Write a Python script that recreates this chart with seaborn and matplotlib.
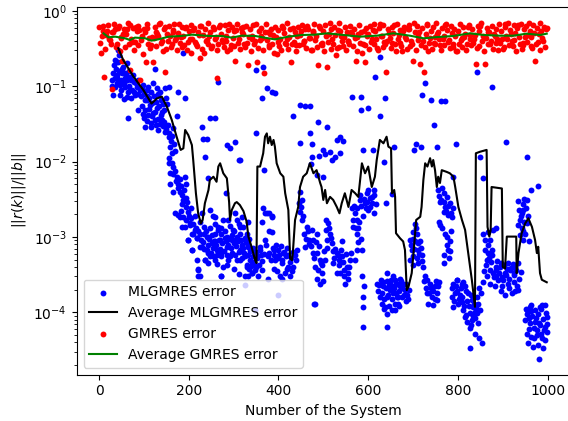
import matplotlib
matplotlib.use("Agg")
import matplotlib.pyplot as plt
import seaborn as sns
import pandas as pd

# ---------------- data ----------------
# MLGMRES error: (system number, relative residual) - sparse/outlier points
blue_sys = [
    36, 43, 54, 62, 32, 30, 39, 51, 58, 69, 77, 36, 47, 58, 69, 32, 47, 62, 80, 84, 91, 99, 110, 121, 129, 136,
    147, 155, 177, 192, 125, 106, 114, 95, 103, 88, 110, 121, 129, 140, 151, 140, 125, 117, 103, 132, 147, 155,
    166, 173, 65, 188, 266, 42, 45,
    158, 162, 155, 166, 158, 173, 158, 177, 166, 181, 192, 195, 188, 195, 177, 188, 199, 203, 192, 210, 199, 218,
    207, 225, 218, 221, 221,
    233, 244, 251, 262, 240, 247, 259, 270, 273, 285, 296, 307, 314, 318, 329, 325, 307, 292, 277, 273, 259, 236,
    233, 322, 307, 329, 314, 299, 285, 266,
    229, 240, 236, 247, 259, 285, 292, 303, 311, 283, 244, 232,
    169, 181, 195, 184, 203, 207, 214, 199, 218, 207, 229, 240, 251, 259, 273, 281, 288, 296, 303, 318, 325, 333,
    266, 244, 255, 236, 273, 288, 303, 314, 325, 340, 351, 359, 221, 225, 273, 325, 348, 400, 480, 374, 385, 422,
    407, 363, 351, 340, 333, 266, 259, 288, 303, 318, 333,
    351, 366, 374, 363, 385, 392, 448, 459, 470, 433, 489, 509, 470, 447, 474, 499, 530, 537, 543, 526, 537, 565,
    583, 583, 600, 626, 638, 615, 626, 350, 314, 589, 635, 658, 640, 368,
    366, 370, 363, 380, 385, 378, 385, 370, 359, 351, 344, 337, 329, 340, 348, 355, 314, 318, 329,
    389, 400, 411, 422, 433, 441, 392, 407, 418, 433, 403, 426, 389,
    448, 452, 448, 452, 463, 474, 467, 459, 485, 478, 493, 489, 496, 493, 481, 507, 515, 511, 519, 530, 534, 537,
    545, 552, 560, 541, 522, 504, 530, 548, 556, 508, 481, 541, 574, 574, 571, 563, 582, 593, 600, 612, 597, 608,
    600, 612, 578, 567, 586, 574, 571,
    586, 591, 589, 589, 589, 641, 619, 634, 626, 641, 649, 656, 663, 660, 652, 638, 630, 641, 656, 667, 671,
    503, 515, 490, 520, 475, 611, 652, 472, 485, 500,
    727, 721, 740, 762, 771, 747, 842, 875, 907, 955, 979, 707, 703, 718, 754, 796, 849, 855,
    933, 948, 946, 942, 938, 935, 942, 953, 950, 946, 959, 790,
    649, 660, 671, 678, 682, 675, 664, 656, 667, 660, 686, 690, 652,
    701, 708, 693, 704, 716, 697, 712, 701, 708, 719, 723, 712, 693,
    727, 738, 749, 756, 730, 742, 753, 745, 734,
    756, 768, 760, 775, 771, 782, 768, 779, 786, 760, 775, 782, 779, 768, 781,
    790, 797, 808, 816, 786, 794, 805, 790, 801, 808, 812, 823, 831, 834, 838, 827, 820, 831, 838, 843, 849, 816,
    826, 838, 846, 853, 827, 842,
    857, 868, 872, 860, 875, 868, 860, 879, 886, 864, 872, 864, 872, 883, 890, 879, 886,
    894, 905, 916, 927, 901, 912, 924, 931, 905, 920, 935, 898, 909, 924, 886,
    953, 961, 972, 983, 994, 998, 950, 961, 972, 983, 994, 953, 964, 976, 987, 998, 957, 968, 979, 990, 981, 976,
]
blue_err = [
    0.223, 0.212, 0.182, 0.202, 0.149, 0.121, 0.128, 0.149, 0.128, 0.134, 0.115, 0.099, 0.104, 0.099, 0.089,
    0.077, 0.077, 0.073, 0.077, 0.099, 0.089, 0.104, 0.099, 0.109, 0.094, 0.085, 0.094, 0.099, 0.085, 0.069,
    0.171, 0.066, 0.056, 0.054, 0.048, 0.048, 0.042, 0.044, 0.051, 0.046, 0.059, 0.036, 0.036, 0.029, 0.029,
    0.026, 0.025, 0.021, 0.028, 0.040, 0.038, 0.274, 0.115, 0.30, 0.26,
    0.0158, 0.0129, 0.0095, 0.0086, 0.0070, 0.0063, 0.0051, 0.0051, 0.0040, 0.0040, 0.0063, 0.0051, 0.0031,
    0.0025, 0.00195, 0.00186, 0.00216, 0.00151, 0.00137, 0.00111, 0.00091, 0.00096, 0.00067, 0.00074, 0.00049,
    0.00038, 0.00030,
    0.00111, 0.00101, 0.00082, 0.00067, 0.00067, 0.00055, 0.00111, 0.00091, 0.00061, 0.00074, 0.00091, 0.00101,
    0.00067, 0.00052, 0.00042, 0.00030, 0.00049, 0.00055, 0.00040, 0.00030, 0.00049, 0.00049, 0.00137, 0.00137,
    0.00168, 0.00111, 0.00111, 0.00124, 0.00101, 0.00124,
    0.029, 0.020, 0.0116, 0.038, 0.038, 0.0166, 0.0150, 0.0184, 0.0105, 0.0038, 0.0060, 0.020,
    0.0021, 0.00186, 0.00168, 0.00137, 0.00144, 0.00111, 0.00124, 0.00091, 0.00096, 0.00067, 0.00074, 0.00101,
    0.00106, 0.00087, 0.00111, 0.00096, 0.00078, 0.00106, 0.00091, 0.00078, 0.00096, 0.00074, 0.00064, 0.00061,
    0.00055, 0.00049, 0.00055, 0.00049, 0.00058, 0.00049, 0.00055, 0.00047, 0.00058, 0.00067, 0.00036, 0.00030,
    0.00030, 0.00023, 0.000107, 0.00017, 0.000128, 0.0021, 0.00186, 0.00040, 0.00028, 0.00036, 0.00040, 0.00033,
    0.00030, 0.00137, 0.00186, 0.00168, 0.0021, 0.00186, 0.0016,
    0.165, 0.182, 0.094, 0.069, 0.085, 0.081, 0.056, 0.054, 0.054, 0.040, 0.034, 0.029, 0.024, 0.0178, 0.0171,
    0.0143, 0.0194, 0.0214, 0.0188, 0.0116, 0.0129, 0.073, 0.073, 0.049, 0.051, 0.040, 0.069, 0.134, 0.248,
    0.024, 0.0105, 0.0143, 0.0100, 0.0158, 0.0028, 0.0077,
    0.0024, 0.0021, 0.0016, 0.0021, 0.0019, 0.0012, 0.00117, 0.00091, 0.00074, 0.00064, 0.00055, 0.00049,
    0.00040, 0.00033, 0.00036, 0.00030, 0.00137, 0.00074, 0.00082,
    0.00067, 0.00067, 0.00061, 0.00058, 0.00064, 0.00067, 0.00049, 0.00045, 0.00038, 0.00040, 0.00030, 0.00030,
    0.00038,
    0.0040, 0.0031, 0.00216, 0.00168, 0.00137, 0.00124, 0.00091, 0.00074, 0.00111, 0.00061, 0.00049, 0.00036,
    0.00033, 0.00024, 0.00040, 0.00168, 0.00111, 0.00151, 0.00082, 0.00061, 0.00049, 0.00033, 0.00030, 0.00040,
    0.00049, 0.00055, 0.00045, 0.00049, 0.00033, 0.00024, 0.00033, 0.00091, 0.00013, 0.00087, 0.00168, 0.00111,
    0.0021, 0.0024, 0.0031, 0.0028, 0.0023, 0.0021, 0.0038, 0.0034, 0.0042, 0.0042, 0.0013, 0.00137, 0.00067,
    0.00067, 0.00049,
    0.00030, 0.00022, 0.00016, 0.000118, 0.000064, 0.000064, 0.00024, 0.00022, 0.00016, 0.00016, 0.00020,
    0.00022, 0.00024, 0.00013, 0.000107, 0.000118, 0.00013, 0.00033, 0.00030, 0.00016, 0.00022,
    0.0125, 0.0135, 0.0118, 0.0105, 0.0115, 0.0142, 0.0037, 0.0092, 0.0066, 0.0062,
    0.112, 0.077, 0.066, 0.063, 0.063, 0.031, 0.156, 0.099, 0.0184, 0.0116, 0.0047, 0.0170, 0.0143, 0.0155,
    0.0155, 0.0170, 0.0116, 0.0060,
    0.0030, 0.0032, 0.0023, 0.0021, 0.00168, 0.00144, 0.0013, 0.00151, 0.00111, 0.00091, 0.00087, 0.0063,
    0.00024, 0.00027, 0.00028, 0.00024, 0.00020, 0.00016, 0.00016, 0.00018, 0.00013, 0.000107, 0.00017, 0.00020,
    0.00020,
    0.00117, 0.00111, 0.00091, 0.00087, 0.00087, 0.00067, 0.00067, 0.00055, 0.00052, 0.00058, 0.00040, 0.00045,
    0.00049,
    0.00030, 0.00024, 0.00022, 0.00022, 0.00018, 0.00016, 0.000145, 0.000124, 0.00013,
    0.0042, 0.0038, 0.0029, 0.0034, 0.0025, 0.0028, 0.00216, 0.00195, 0.00186, 0.00144, 0.00101, 0.00087,
    0.00067, 0.00045, 0.00052,
    0.00024, 0.00027, 0.00024, 0.00022, 0.00016, 0.00018, 0.00017, 0.000118, 0.00013, 0.000137, 0.000107,
    0.00018, 0.000145, 0.000118, 0.000102, 0.000097, 0.000075, 0.000079, 0.000083, 0.000097, 0.000107, 0.000087,
    0.000061, 0.000052, 0.000045, 0.000039, 0.000033, 0.00016,
    0.00111, 0.00117, 0.00091, 0.00091, 0.00067, 0.00061, 0.00067, 0.00124, 0.0013, 0.00049, 0.00036, 0.00030,
    0.00024, 0.00022, 0.00027, 0.00033, 0.00040,
    0.00040, 0.00033, 0.00036, 0.00040, 0.00027, 0.00024, 0.00025, 0.00022, 0.00017, 0.00018, 0.00020, 0.00022,
    0.00038, 0.00033, 0.00030,
    0.000107, 0.000118, 0.000107, 0.000118, 0.000124, 0.000087, 0.000079, 0.000071, 0.000075, 0.000068,
    0.000064, 0.000052, 0.000047, 0.000050, 0.000045, 0.000055, 0.000039, 0.000035, 0.000037, 0.000033,
    0.000024, 0.000058,
]

# MLGMRES error - points in the dense clusters
blue_sys_dense = [
    33, 38, 41, 44, 49, 52, 55, 57, 60, 63, 66, 67, 71, 73, 75, 78, 82, 86, 88, 93, 96, 100, 102, 106, 108, 112,
    116, 119, 123, 127, 131, 134, 138, 143, 145, 149, 40, 35, 28, 50, 56, 64, 72,
    97, 101, 108, 112, 115, 119, 124, 127, 131, 135, 138, 142, 145, 150, 153, 157, 160, 163, 168, 170, 157, 162,
    165, 169, 171, 175, 180, 183, 186, 190, 193, 197, 185, 182, 200, 204, 206, 210, 213, 216, 220, 224, 226, 228,
    231, 234, 238, 242, 245, 248, 250, 253, 256, 258, 261, 264, 267, 269, 272, 275, 278, 280, 283, 286, 289, 291,
    294, 297, 300, 302, 305, 309, 311, 313, 316, 320, 323, 327, 331, 334, 337, 339, 243, 262, 285, 300, 255, 276,
    248, 229, 312, 335,
    343, 346, 353, 357, 361, 364, 367, 372, 376, 380, 383, 387, 391, 395, 398, 402, 405, 409, 413, 416, 420, 425,
    429, 436, 439, 396, 414, 430, 377,
    445, 450, 455, 458, 461, 465, 469, 472, 476, 479, 483, 487, 491, 495, 498, 502, 505, 509, 513, 517, 521, 524,
    527, 532, 535, 539, 544, 547, 551, 554, 558, 562, 486, 500,
    566, 569, 572, 576, 579, 581, 585, 588, 591, 595, 598, 603, 605, 609, 614, 617, 577, 583,
    622, 625, 628, 631, 633, 636, 639, 643, 645, 647, 651, 654, 658, 661, 665, 669, 673, 676, 680, 684, 688, 647,
    635, 668, 684, 642,
    695, 699, 703, 706, 710, 714, 717, 721, 699, 705,
    725, 729, 732, 736, 740, 744, 748, 751, 754, 758,
    758, 762, 765, 769, 773, 777, 784, 788, 765, 772, 776, 783, 770, 758, 785,
    787, 792, 796, 799, 803, 806, 810, 814, 818, 821, 825, 829, 833, 836, 840, 845, 848, 852, 855, 819, 830, 844,
    812, 799,
    858, 862, 866, 869, 874, 877, 881, 884, 888, 892, 896, 899, 903, 907, 911, 914, 918, 922, 926, 929, 933, 937,
    940, 913, 928, 896,
    936, 940, 944, 948, 952, 956, 944, 939, 955, 962,
    951, 955, 959, 963, 966, 970, 974, 978, 981, 985, 989, 992, 996, 999, 958, 970, 985, 994, 962, 988,
]
blue_err_dense = [
    0.19, 0.17, 0.14, 0.16, 0.12, 0.17, 0.11, 0.15, 0.14, 0.12, 0.16, 0.10, 0.12, 0.09, 0.14, 0.085, 0.11, 0.08,
    0.12, 0.075, 0.092, 0.08, 0.065, 0.09, 0.075, 0.07, 0.085, 0.06, 0.075, 0.062, 0.078, 0.055, 0.065, 0.058,
    0.048, 0.07, 0.11, 0.13, 0.10, 0.09, 0.068, 0.085, 0.07,
    0.043, 0.038, 0.035, 0.05, 0.033, 0.04, 0.045, 0.031, 0.037, 0.032, 0.041, 0.03, 0.034, 0.027, 0.031, 0.024,
    0.019, 0.022, 0.017, 0.014, 0.011, 0.0095, 0.0068, 0.0075, 0.0056, 0.0045, 0.0058, 0.0048, 0.0036, 0.0042,
    0.0033, 0.0029, 0.0027, 0.0022, 0.0019, 0.0024, 0.0018, 0.0015, 0.0019, 0.0013, 0.0012, 0.0016, 0.0011,
    0.0009,
    0.00085, 0.0007, 0.0012, 0.00078, 0.00095, 0.0013, 0.00062, 0.00072, 0.00088, 0.0015, 0.00079, 0.00058,
    0.00092, 0.0007, 0.0013, 0.00083, 0.00066, 0.0012, 0.00087, 0.00057, 0.00093, 0.0014, 0.00071, 0.00062,
    0.00082, 0.0012, 0.00075, 0.00088, 0.00063, 0.0015, 0.0009, 0.00072, 0.00061, 0.00085, 0.00058, 0.00095,
    0.00065, 0.00041, 0.00045, 0.00044, 0.00043, 0.00037, 0.0019, 0.0017, 0.0023, 0.0021, 0.00032, 0.00038,
    0.00072, 0.00045, 0.00052, 0.00042, 0.00057, 0.00048, 0.0006, 0.00078, 0.00056, 0.00062, 0.0005, 0.00072,
    0.00058, 0.00078, 0.00052, 0.00057, 0.00075, 0.00049, 0.00063, 0.00055, 0.00072, 0.00046, 0.00053, 0.00058,
    0.0005, 0.00035, 0.00033, 0.00035, 0.00028,
    0.0028, 0.0025, 0.0019, 0.0011, 0.00095, 0.0012, 0.0008, 0.00075, 0.0009, 0.00052, 0.00085, 0.00062, 0.00075,
    0.00045, 0.00042, 0.00065, 0.00125, 0.00072, 0.0013, 0.00097, 0.00065, 0.00053, 0.0007, 0.00057, 0.00043,
    0.00068, 0.00046, 0.00036, 0.0006, 0.00028, 0.0004, 0.00062, 0.00028, 0.00026,
    0.0017, 0.0026, 0.0013, 0.0024, 0.0016, 0.0036, 0.0026, 0.0019, 0.0032, 0.0024, 0.0029, 0.0033, 0.0025,
    0.0028, 0.0036, 0.0027, 0.00085, 0.00095,
    0.00019, 0.00023, 0.00027, 0.00018, 0.00025, 0.00015, 0.00021, 0.00026, 0.00017, 0.00023, 0.00027, 0.00015,
    0.00021, 0.00018, 0.00024, 0.00019, 0.00026, 0.00021, 0.00017, 0.00024, 0.00015, 0.00012, 0.00011, 0.00012,
    0.00014, 0.000095,
    0.00078, 0.00095, 0.0007, 0.0013, 0.00083, 0.0006, 0.00072, 0.00048, 0.00043, 0.0015,
    0.00026, 0.00021, 0.00027, 0.00018, 0.00021, 0.00019, 0.00015, 0.00026, 0.00018, 0.00025,
    0.0035, 0.0031, 0.0045, 0.0029, 0.0022, 0.0026, 0.0021, 0.0024, 0.0013, 0.0011, 0.00078, 0.00066, 0.00058,
    0.0016, 0.0012,
    0.00021, 0.00014, 0.00022, 0.00019, 0.00015, 0.00021, 0.00016, 0.00012, 0.00019, 0.00014, 0.00012, 0.00017,
    0.00009, 0.00013, 0.000115, 0.00013, 0.00021, 0.00018, 0.00025, 0.000092, 0.000068, 0.000072, 0.00025,
    0.00027,
    0.00035, 0.00043, 0.00078, 0.00052, 0.00046, 0.00058, 0.00029, 0.00036, 0.00048, 0.00033, 0.00045, 0.00029,
    0.00042, 0.00031, 0.00045, 0.00028, 0.00039, 0.00044, 0.00031, 0.00036, 0.00045, 0.00028, 0.00034, 0.00021,
    0.00019, 0.00019,
    0.0023, 0.0019, 0.0027, 0.0016, 0.0024, 0.0019, 0.0012, 0.00105, 0.0031, 0.0042,
    0.00011, 0.000095, 0.000085, 0.000105, 0.00009, 0.000062, 0.000085, 0.000095, 0.000072, 0.00011, 0.000082,
    0.000058, 0.000098, 0.00007, 0.00006, 0.000045, 0.000052, 0.000043, 0.000125, 0.000125,
]

# Average MLGMRES error (traced vertices)
avg_ml_sys = [
    43, 54, 77, 99, 117, 129, 140, 151, 162, 173, 182, 188, 192, 199, 207, 210, 216, 221, 227, 231, 236, 244,
    247, 255, 262, 266, 270, 277, 285, 290, 292, 296, 303, 307, 314, 322, 329, 333, 340, 348, 351, 353, 359,
    366, 370, 374, 377, 381, 385, 389, 392, 396, 404, 411, 415, 422, 424, 426, 430, 432, 437, 444, 448, 455,
    463, 470, 478, 485, 493, 496, 500, 504, 508, 515, 522, 530, 536, 541, 548, 556, 563, 571, 578, 586, 593,
    600, 608, 615, 619, 626, 634, 641, 645, 651, 653, 658, 660, 662, 671, 678, 682, 686, 690, 697, 701, 707,
    716, 719, 723, 727, 732, 738, 742, 745, 749, 753, 756, 760, 764, 775, 782, 790, 794, 801, 809, 816, 823,
    831, 838, 840, 849, 864, 866, 870, 873, 875, 898, 900, 905, 909, 930, 931, 935, 942, 950, 957, 965, 972,
    976, 979, 983, 987, 998,
]
avg_ml_err = [
    0.32, 0.223, 0.134, 0.089, 0.059, 0.069, 0.073, 0.054, 0.036, 0.0214, 0.0143, 0.015, 0.0263, 0.0225, 0.0166,
    0.0105, 0.0038, 0.00206, 0.00151, 0.00168, 0.0028, 0.0042, 0.0057, 0.0063, 0.0054, 0.0086, 0.0095, 0.0070,
    0.0060, 0.0029, 0.00168, 0.00228, 0.0028, 0.0029, 0.00265, 0.0022, 0.0016, 0.00101, 0.00074, 0.00049,
    0.00045, 0.0086, 0.0086, 0.0129, 0.0214, 0.0237, 0.0175, 0.0214, 0.0166, 0.0194, 0.0158, 0.0095, 0.0070,
    0.0063, 0.0038, 0.00228, 0.00112, 0.00052, 0.00049, 0.00061, 0.00168, 0.0025, 0.0046, 0.0063, 0.0070,
    0.0095, 0.0070, 0.0077, 0.0052, 0.0046, 0.0031, 0.0042, 0.0028, 0.0034, 0.0031, 0.0025, 0.00206, 0.0028,
    0.0038, 0.0025, 0.0042, 0.0038, 0.0034, 0.0095, 0.0070, 0.0086, 0.0046, 0.0063, 0.0105, 0.0194, 0.0175,
    0.0214, 0.0158, 0.015, 0.0038, 0.0042, 0.0034, 0.00112, 0.00096, 0.00087, 0.00067, 0.000197, 0.00022,
    0.00033, 0.00061, 0.00168, 0.00185, 0.0025, 0.0057, 0.0095, 0.0086, 0.0111, 0.0086, 0.0105, 0.0077, 0.0046,
    0.0063, 0.0052, 0.0077, 0.0073, 0.0070, 0.0063, 0.0046, 0.0025, 0.00168, 0.00124, 0.00061, 0.00027,
    0.000118, 0.0129, 0.0135, 0.0143, 0.00136, 0.00101, 0.00124, 0.0046, 0.0044, 0.0004, 0.00038, 0.00101,
    0.00101, 0.00033, 0.00061, 0.00112, 0.00151, 0.00177, 0.00136, 0.00091, 0.00061, 0.00074, 0.00033, 0.00027,
    0.00025,
]

# GMRES error: systems 0,4,8,... then 2,6,10,...
gm_sys = list(range(0, 1000, 4)) + list(range(2, 1000, 4))
gm_err = [
    0.62, 0.28, 0.55, 0.134, 0.48, 0.66, 0.41, 0.092, 0.52, 0.58,
    0.36, 0.63, 0.45, 0.22, 0.57, 0.50, 0.69, 0.165, 0.43, 0.60,
    0.39, 0.54, 0.64, 0.12, 0.47, 0.58, 0.21, 0.67, 0.44, 0.35,
    0.21, 0.61, 0.53, 0.46, 0.70, 0.40, 0.57, 0.156, 0.49, 0.63,
    0.33, 0.56, 0.68, 0.44, 0.51, 0.38, 0.62, 0.47, 0.59, 0.30,
    0.55, 0.66, 0.42, 0.60, 0.37, 0.53, 0.235, 0.64, 0.48, 0.57,
    0.41, 0.69, 0.52, 0.34, 0.58, 0.45, 0.128, 0.61, 0.50, 0.39,
    0.65, 0.47, 0.56, 0.31, 0.62, 0.54, 0.22, 0.68, 0.43, 0.59,
    0.50, 0.36, 0.63, 0.19, 0.57, 0.46, 0.66, 0.40, 0.21, 0.55,
    0.60, 0.44, 0.149, 0.67, 0.52, 0.33, 0.58, 0.48, 0.62, 0.27,
    0.56, 0.42, 0.64, 0.51, 0.37, 0.69, 0.45, 0.21, 0.59, 0.53,
    0.35, 0.61, 0.48, 0.66, 0.40, 0.57, 0.63, 0.44, 0.30, 0.55,
    0.68, 0.47, 0.19, 0.60, 0.38, 0.54, 0.65, 0.18, 0.50, 0.58,
    0.43, 0.62, 0.26, 0.56, 0.69, 0.46, 0.34, 0.61, 0.52, 0.40,
    0.64, 0.49, 0.57, 0.22, 0.45, 0.66, 0.53, 0.37, 0.21, 0.59,
    0.50, 0.63, 0.42, 0.68, 0.55, 0.32, 0.60, 0.47, 0.65, 0.39,
    0.156, 0.58, 0.44, 0.62, 0.51, 0.36, 0.67, 0.48, 0.56, 0.29,
    0.61, 0.43, 0.57, 0.66, 0.40, 0.22, 0.53, 0.64, 0.46, 0.198,
    0.59, 0.153, 0.50, 0.68, 0.38, 0.55, 0.62, 0.45, 0.70, 0.52,
    0.35, 0.60, 0.47, 0.65, 0.56, 0.41, 0.63, 0.33, 0.58, 0.29,
    0.54, 0.67, 0.44, 0.61, 0.50, 0.37, 0.66, 0.48, 0.57, 0.42,
    0.20, 0.63, 0.55, 0.69, 0.46, 0.198, 0.59, 0.52, 0.36, 0.64,
    0.49, 0.58, 0.43, 0.67, 0.54, 0.31, 0.62, 0.47, 0.70, 0.56,
    0.40, 0.65, 0.51, 0.60, 0.45, 0.68, 0.38, 0.57, 0.63, 0.48,
    0.55, 0.34, 0.66, 0.22, 0.59, 0.50, 0.69, 0.44, 0.61, 0.57,
    # systems 2, 6, 10, ...
    0.38, 0.47, 0.64, 0.31, 0.55, 0.42, 0.36, 0.52, 0.67, 0.33,
    0.59, 0.29, 0.44, 0.50, 0.33, 0.57, 0.37, 0.66, 0.39, 0.30,
    0.62, 0.35, 0.56, 0.41, 0.27, 0.53, 0.60, 0.37, 0.32, 0.45,
    0.44, 0.34, 0.49, 0.67, 0.38, 0.29, 0.62, 0.31, 0.40, 0.47,
    0.36, 0.52, 0.41, 0.30, 0.68, 0.45, 0.33, 0.35, 0.61, 0.39,
    0.43, 0.28, 0.56, 0.39, 0.34, 0.48, 0.63, 0.31, 0.28, 0.40,
    0.37, 0.46, 0.32, 0.62, 0.42, 0.30, 0.36, 0.65, 0.41, 0.33,
    0.40, 0.29, 0.67, 0.35, 0.44, 0.34, 0.56, 0.38, 0.31, 0.52,
    0.61, 0.33, 0.38, 0.45, 0.29, 0.43, 0.36, 0.68, 0.32, 0.41,
    0.46, 0.30, 0.53, 0.41, 0.35, 0.50, 0.37, 0.28, 0.45, 0.39,
    0.34, 0.30, 0.60, 0.38, 0.42, 0.31, 0.57, 0.36, 0.39, 0.29,
    0.47, 0.35, 0.54, 0.36, 0.40, 0.32, 0.58, 0.44, 0.30, 0.53,
    0.41, 0.33, 0.64, 0.37, 0.35, 0.29, 0.46, 0.39, 0.69, 0.31,
    0.36, 0.48, 0.32, 0.33, 0.54, 0.40, 0.45, 0.30, 0.40, 0.37,
    0.52, 0.34, 0.44, 0.29, 0.49, 0.38, 0.28, 0.55, 0.35, 0.47,
    0.31, 0.39, 0.56, 0.36, 0.43, 0.30, 0.68, 0.46, 0.33, 0.36,
    0.40, 0.51, 0.32, 0.38, 0.66, 0.29, 0.42, 0.38, 0.34, 0.54,
    0.45, 0.31, 0.57, 0.34, 0.37, 0.69, 0.30, 0.41, 0.52, 0.35,
    0.40, 0.33, 0.65, 0.29, 0.44, 0.31, 0.38, 0.36, 0.49, 0.42,
    0.30, 0.43, 0.35, 0.68, 0.39, 0.32, 0.51, 0.37, 0.46, 0.29,
    0.37, 0.41, 0.33, 0.45, 0.30, 0.61, 0.42, 0.35, 0.38, 0.48,
    0.32, 0.34, 0.63, 0.40, 0.29, 0.44, 0.36, 0.53, 0.40, 0.31,
    0.46, 0.38, 0.30, 0.38, 0.42, 0.33, 0.68, 0.43, 0.35, 0.49,
    0.34, 0.41, 0.29, 0.66, 0.37, 0.31, 0.35, 0.45, 0.39, 0.70,
    0.45, 0.32, 0.51, 0.36, 0.39, 0.30, 0.55, 0.40, 0.33, 0.60,
]

# Average GMRES error
avg_gm_sys = [10, 21, 36, 58, 69, 80, 103, 117, 132, 155, 184, 207, 244, 273, 296, 318, 348, 377, 392, 422,
              452, 481, 508, 545, 582, 619, 656, 693, 723, 753, 790, 827, 857, 894, 924, 953, 983, 998]
avg_gm_err = [0.505, 0.447, 0.456, 0.434, 0.412, 0.443, 0.434, 0.404, 0.42, 0.456, 0.466, 0.485, 0.466, 0.466,
              0.443, 0.47, 0.466, 0.434, 0.42, 0.456, 0.48, 0.485, 0.505, 0.48, 0.456, 0.47, 0.505, 0.47, 0.434,
              0.45, 0.466, 0.505, 0.48, 0.47, 0.47, 0.5, 0.48, 0.5]

# ---------------- plotting ----------------
W, H = 568, 421
fig = plt.figure(figsize=(W / 100, H / 100), dpi=100)
ax = fig.add_axes([76.6 / W, 1 - 374.5 / H, 493.0 / W, (374.5 - 6.7) / H])

df_blue = pd.DataFrame({"sys": blue_sys + blue_sys_dense, "err": blue_err + blue_err_dense})
df_avg_ml = pd.DataFrame({"sys": avg_ml_sys, "err": avg_ml_err})
df_red = pd.DataFrame({"sys": gm_sys, "err": gm_err})
df_avg_gm = pd.DataFrame({"sys": avg_gm_sys, "err": avg_gm_err})

sns.scatterplot(data=df_blue, x="sys", y="err", color="blue", s=18, linewidth=0,
                label="MLGMRES error", ax=ax)
sns.lineplot(data=df_avg_ml, x="sys", y="err", color="black", linewidth=1.5, estimator=None,
             sort=False, label="Average MLGMRES error", ax=ax)
sns.scatterplot(data=df_red, x="sys", y="err", color="red", s=18, linewidth=0,
                label="GMRES error", ax=ax)
sns.lineplot(data=df_avg_gm, x="sys", y="err", color="green", linewidth=1.5, estimator=None,
             sort=False, label="Average GMRES error", ax=ax)

ax.set_yscale("log")
ax.set_xlim(-49.95, 1048.95)
ax.set_ylim(1.49e-5, 1.14)
ax.set_xticks([0, 200, 400, 600, 800, 1000])
ax.set_xlabel("Number of the System", fontsize=10)
ax.set_ylabel(r"$||r(k)||/||b||$", fontsize=10)
ax.tick_params(labelsize=10)
ax.legend(loc="lower left", fontsize=10)

fig.savefig("out.png", dpi=100)
